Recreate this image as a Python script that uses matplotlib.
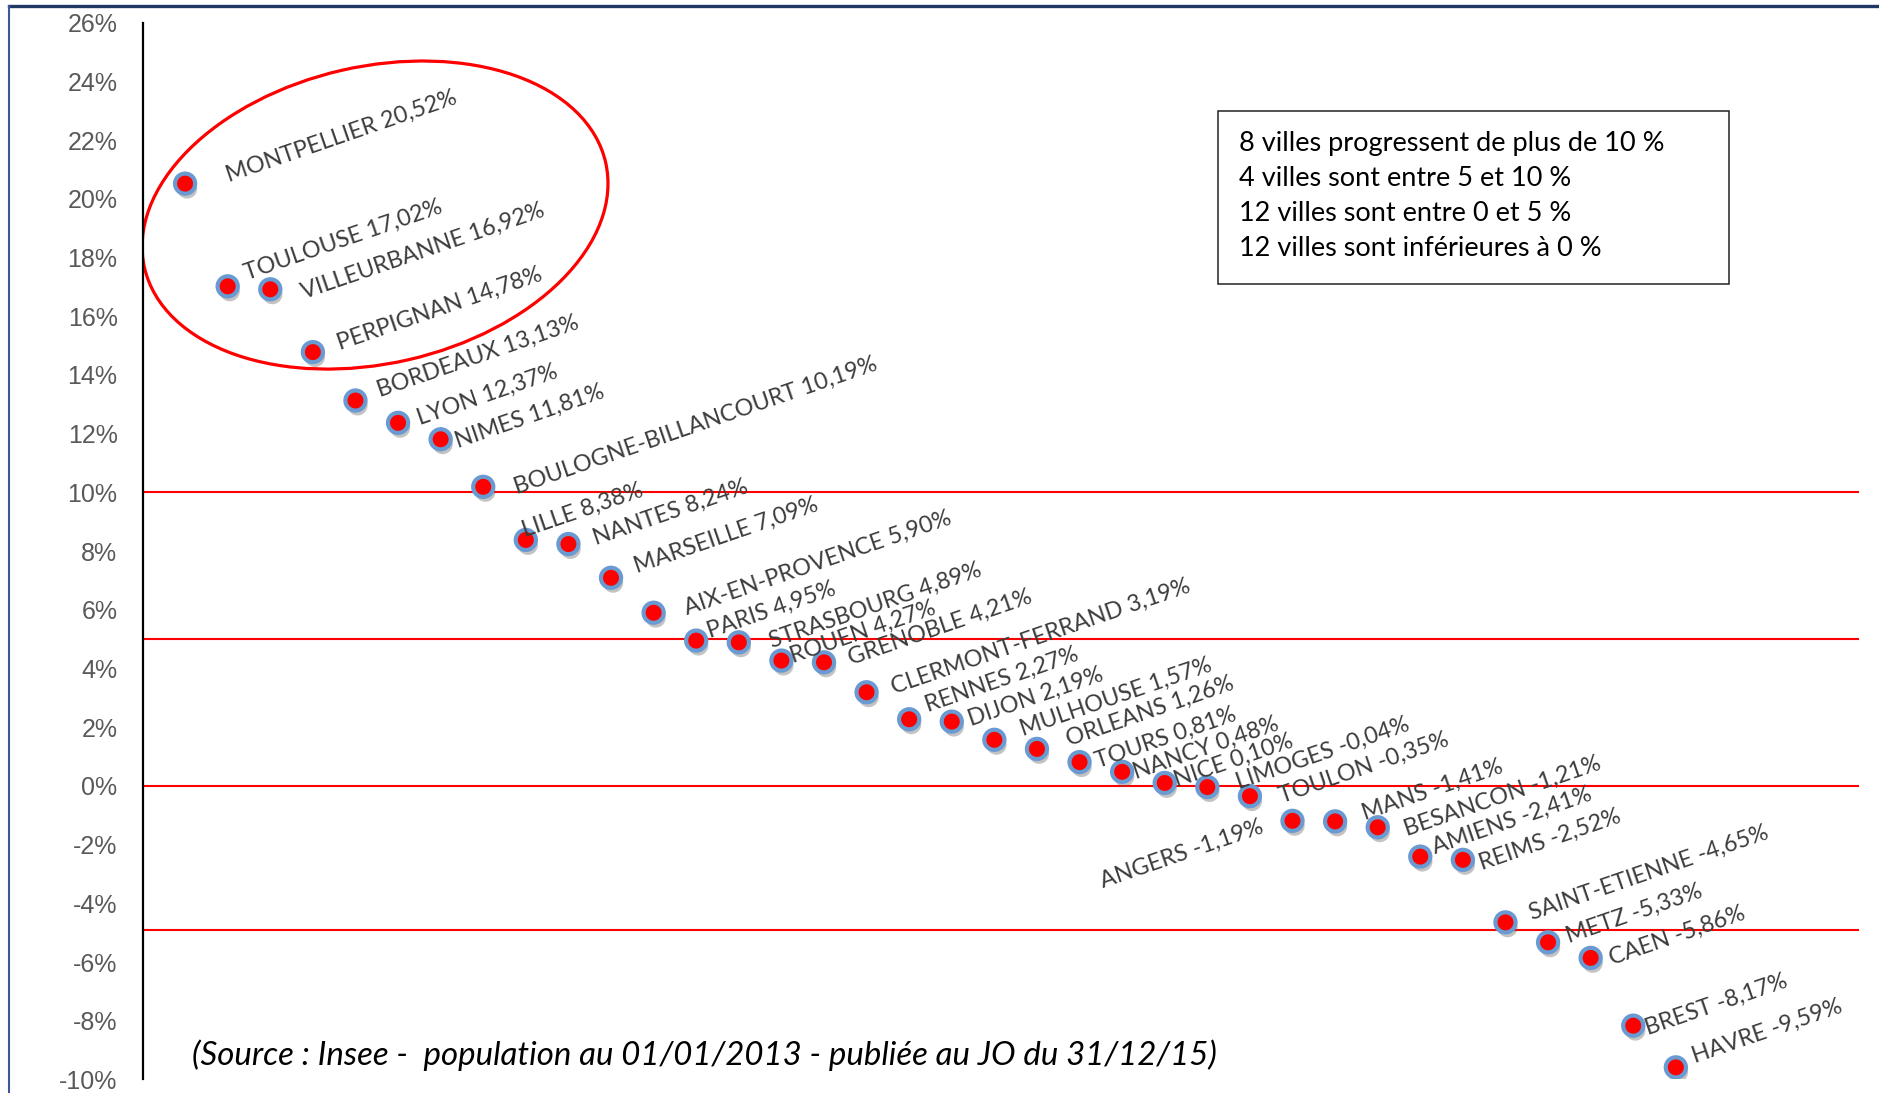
import matplotlib
matplotlib.use("Agg")
import matplotlib.pyplot as plt
import matplotlib.patheffects as pe
from matplotlib.lines import Line2D
from matplotlib.patches import Ellipse, Rectangle
from matplotlib.transforms import ScaledTranslation

# --- data --------------------------------------------------------------
CITIES = [
    "MONTPELLIER", "TOULOUSE", "VILLEURBANNE", "PERPIGNAN", "BORDEAUX",
    "LYON", "NIMES", "BOULOGNE-BILLANCOURT", "LILLE", "NANTES",
    "MARSEILLE", "AIX-EN-PROVENCE", "PARIS", "STRASBOURG", "ROUEN",
    "GRENOBLE", "CLERMONT-FERRAND", "RENNES", "DIJON", "MULHOUSE",
    "ORLEANS", "TOURS", "NANCY", "NICE", "LIMOGES", "TOULON", "ANGERS",
    "BESANCON", "MANS", "AMIENS", "REIMS", "SAINT-ETIENNE", "METZ",
    "CAEN", "BREST", "HAVRE",
]
GROWTH = [
    20.52, 17.02, 16.92, 14.78, 13.13, 12.37, 11.81, 10.19, 8.38, 8.24,
    7.09, 5.90, 4.95, 4.89, 4.27, 4.21, 3.19, 2.27, 2.19, 1.57,
    1.26, 0.81, 0.48, 0.10, -0.04, -0.35, -1.19, -1.21, -1.41, -2.41,
    -2.52, -4.65, -5.33, -5.86, -8.17, -9.59,
]
Y_TICKS = list(range(-10, 27, 2))
THRESHOLDS = [10, 5, 0, -4.9]
SUMMARY_LINES = [
    "8 villes progressent de plus de 10 %",
    "4 villes sont entre 5 et 10 %",
    "12 villes sont entre 0 et 5 %",
    "12 villes sont inférieures à 0 %",
]
SOURCE_NOTE = "(Source : Insee -  population au 01/01/2013 - publiée au JO du 31/12/15)"

# --- label placement (pixels right / down from each marker) -------------
LABEL_OFFSETS_PX = [
    (44, -2), (19, -6), (34, 10), (27, -2), (25, -4), (22, 2), (17, 9),
    (34, 7), (-1, -3), (28, 1), (26, -5), (33, 2), (14, -3), (33, 6),
    (12, 2), (27, 3), (27, 2), (19, -7), (19, 4), (29, -4), (32, -3),
    (18, 6), (14, 7), (12, 4), (32, 2), (32, 7), (-28, 11), (72, 15),
    (-13, -7), (15, -3), (19, 10), (26, -2), (21, 1), (21, 7), (15, 9),
    (19, -4),
]
RIGHT_ALIGNED = {"ANGERS"}

W_PX, H_PX, DPI = 1879, 1093, 100
LABEL_FONT = ["Lato", "DejaVu Sans"]
TICK_FONT = ["Liberation Sans Narrow", "Liberation Sans", "DejaVu Sans"]
LABEL_GREY = "#3C3C3C"


def fx(px):
    return px / W_PX


def fy(py):
    # y measured downward from the top, in pixels
    return 1 - py / H_PX


fig = plt.figure(figsize=(W_PX / DPI, H_PX / DPI), dpi=DPI)
ax = fig.add_axes([fx(142.5), fy(1079.4), fx(1859 - 142.5), (1079.4 - 22.8) / H_PX])
ax.set_xlim(0, 40.3)
ax.set_ylim(-10, 26)

xs = list(range(1, len(CITIES) + 1))

for t in THRESHOLDS:
    ax.axhline(t, color="#FF0000", lw=1.5, zorder=1)

ax.plot(
    xs, GROWTH, ls="none", marker="o", ms=14.5,
    mfc="#FF0000", mec="#6A9AD2", mew=3.0, zorder=3,
    path_effects=[
        pe.SimplePatchShadow(offset=(1.5, -3.5), shadow_rgbFace="#555555", alpha=0.35),
        pe.Normal(),
    ],
)

for x, name, v, (dx, dy) in zip(xs, CITIES, GROWTH, LABEL_OFFSETS_PX):
    txt = f"{name} {v:.2f}%".replace(".", ",")
    ax.annotate(
        txt, (x, v), xytext=(dx, -dy), textcoords="offset pixels",
        rotation=19, rotation_mode="anchor",
        ha="right" if name in RIGHT_ALIGNED else "left", va="baseline",
        fontsize=16.8, color=LABEL_GREY, family=LABEL_FONT, zorder=4,
    )

# highlight ellipse round the four leaders (pixel-sized, data-anchored)
ax.add_patch(Ellipse(
    (0, 0), 473, 297, angle=12.85, fill=False, ec="#FF0000", lw=2.3,
    transform=ScaledTranslation(5.46, 19.45, ax.transData), zorder=2,
))

ax.set_yticks(Y_TICKS)
ax.set_yticklabels([f"{t}%" for t in Y_TICKS], fontsize=18,
                   family=TICK_FONT, color="#595959")
ax.tick_params(axis="y", length=0, pad=18)
ax.set_xticks([])
for side in ("top", "right", "bottom"):
    ax.spines[side].set_visible(False)
ax.spines["left"].set_color("black")
ax.spines["left"].set_linewidth(1.6)

# summary box
fig.add_artist(Rectangle(
    (fx(1217.5), fy(284)), fx(1729 - 1217.5), (284 - 110.7) / H_PX,
    transform=fig.transFigure, fill=False, ec="#222222", lw=1.1,
))
for k, line in enumerate(SUMMARY_LINES):
    fig.text(fx(1239), fy(143 + 35.2 * k), line, ha="left", va="center",
             fontsize=19.5, color="black", family=LABEL_FONT)

fig.text(fx(192), fy(1055), SOURCE_NOTE, ha="left", va="center",
         fontsize=23.8, style="italic", color="black", family=LABEL_FONT)

# outer frame of the original slide
fig.add_artist(Line2D([fx(9), 1], [fy(6), fy(6)], transform=fig.transFigure,
                      color="#1F3864", lw=2.4))
fig.add_artist(Line2D([fx(9), fx(9)], [fy(6), 0], transform=fig.transFigure,
                      color="#3A5A96", lw=1.5))

fig.savefig("out.png", dpi=DPI)
